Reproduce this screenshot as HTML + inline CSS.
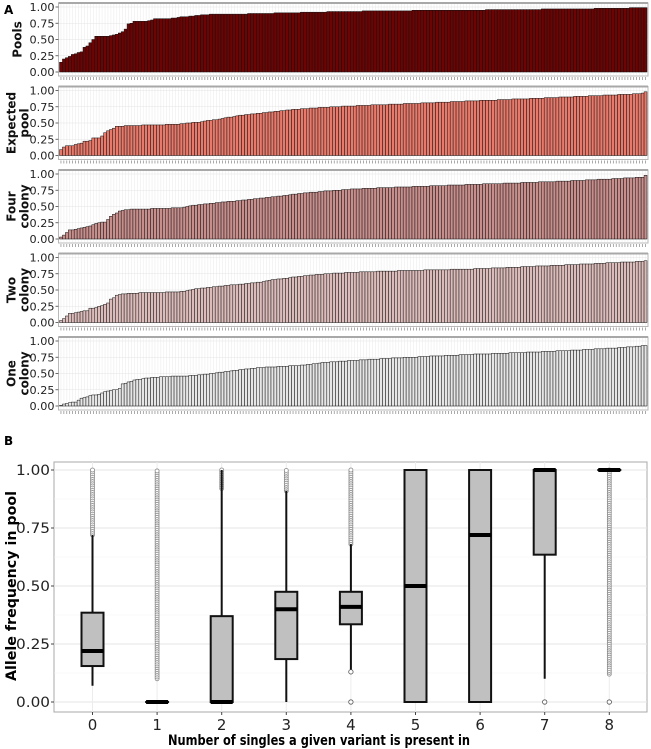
<!DOCTYPE html>
<html><head><meta charset="utf-8">
<style>
body{margin:0;background:#fff}
svg{display:block;font-family:"DejaVu Sans","Liberation Sans",sans-serif}
</style></head><body>
<svg id="chart" width="651" height="749" viewBox="0 0 651 749" xmlns="http://www.w3.org/2000/svg"></svg>
<script>
const pools=[15,20,22,24,27,28,30,31,38,40,45,50,55,55,55,55,55,56,57,58,60,62,66,74,75,78,78,78,78,78,79,80,82,82,82,82,82,82,83,83,84,85,85,85,86,86,87,87,88,88,88,89,89,89,89,89,89,89,89,89,89,89,89,89,90,90,90,90,90,90,90,90,90,91,91,91,91,91,91,91,91,91,92,92,92,92,92,92,92,92,92,93,93,93,93,93,93,93,93,93,93,93,93,94,94,94,94,94,94,94,94,94,94,94,94,94,94,94,94,94,95,95,95,95,95,95,95,95,95,95,95,95,95,95,95,95,95,95,95,95,95,95,95,95,95,96,96,96,96,96,96,96,96,96,96,96,96,96,96,96,96,96,96,96,97,97,97,97,97,97,97,97,97,97,97,97,97,97,97,97,97,97,98,98,98,98,98,98,98,98,98,98,98,98,99,99,99,99,99,99];
const expectedPool=[9,13,15,15,15,17,18,19,22,22,23,27,27,27,30,35,38,40,42,45,45,45,46,46,46,46,46,46,47,47,47,47,47,47,47,47,48,48,48,48,48,49,49,50,50,51,51,51,52,53,54,54,55,55,56,57,58,59,59,60,61,62,62,63,63,64,64,65,65,66,66,67,67,68,68,69,69,70,70,71,71,71,72,72,72,73,73,73,74,74,74,74,75,75,75,75,76,76,76,76,76,77,77,77,77,77,78,78,78,78,78,78,79,79,79,79,79,80,80,80,80,80,80,81,81,81,81,81,82,82,82,82,82,83,83,83,83,83,84,84,84,84,84,85,85,85,85,85,85,86,86,86,86,86,87,87,87,87,87,87,88,88,88,88,88,89,89,89,89,89,90,90,90,90,90,91,91,91,91,91,92,92,92,92,92,93,93,93,93,93,94,94,94,94,94,95,95,95,96,98];
const fourColony=[3,6,10,14,14,15,16,17,18,19,20,22,24,25,26,26,30,35,38,40,43,44,45,45,46,46,46,46,46,46,46,47,47,47,47,47,47,47,48,48,48,48,49,50,51,52,52,53,53,54,54,55,55,56,56,57,57,58,58,58,59,59,60,60,61,61,62,62,63,63,64,64,65,65,66,66,67,67,68,69,69,70,70,71,71,72,72,72,73,73,74,74,74,75,75,75,76,76,76,77,77,77,77,78,78,78,78,78,79,79,79,79,79,79,80,80,80,80,80,80,81,81,81,81,81,81,82,82,82,82,82,82,83,83,83,83,83,83,84,84,84,84,84,84,85,85,85,85,85,85,85,86,86,86,86,86,86,87,87,87,87,87,87,88,88,88,88,88,88,89,89,89,89,89,90,90,90,90,90,91,91,91,91,92,92,92,92,92,93,93,93,93,94,94,94,94,95,95,95,98];
const twoColony=[3,6,10,14,14,15,16,17,18,18,22,22,23,25,26,28,30,36,38,42,43,44,44,45,45,45,45,46,46,46,46,46,46,46,46,46,47,47,47,47,47,48,48,49,50,51,52,52,53,53,54,54,55,55,56,56,57,57,58,58,58,59,59,60,60,61,61,62,62,63,64,65,66,66,67,67,68,68,69,70,70,71,71,72,72,73,73,74,74,74,75,75,75,76,76,76,76,77,77,77,77,77,78,78,78,78,78,78,79,79,79,79,79,79,79,80,80,80,80,80,80,80,80,80,81,81,81,81,81,81,81,81,81,82,82,82,82,82,82,82,82,83,83,83,83,83,83,84,84,84,84,84,85,85,85,85,85,86,86,86,86,86,87,87,87,87,87,88,88,88,88,88,89,89,89,89,89,90,90,90,90,90,91,91,91,91,92,92,92,92,92,93,93,93,93,93,94,94,94,95];
const oneColony=[1,3,4,5,6,6,9,12,13,14,16,17,17,18,20,22,23,24,25,25,27,34,35,37,38,40,41,41,42,43,43,44,44,44,45,45,45,45,46,46,46,46,46,46,47,47,47,48,48,49,49,50,50,51,52,52,53,53,54,55,55,56,56,57,57,58,58,59,59,59,60,60,60,60,61,61,61,61,62,62,62,62,63,63,64,64,65,65,66,67,67,67,68,68,68,69,69,69,70,70,70,70,71,71,71,72,72,72,72,73,73,73,73,74,74,74,74,75,75,75,75,75,76,76,76,76,77,77,77,77,77,78,78,78,78,78,79,79,79,79,79,80,80,80,80,80,80,81,81,81,81,81,81,82,82,82,82,82,82,83,83,83,83,83,84,84,84,84,84,85,85,85,85,85,86,86,86,86,87,87,87,87,88,88,88,88,89,89,89,89,90,90,90,91,91,91,92,92,93,93];
const panelNames=["Pools","Expected|pool","Four|colony","Two|colony","One|colony"];
const panelColors=["#6e0303","#e97a6b","#c88e8c","#dcbcba","#e6e6e6"];
const yTicks=[0,0.25,0.5,0.75,1];
const yTickLabels=["0.00","0.25","0.50","0.75","1.00"];
const boxCats=["0","1","2","3","4","5","6","7","8"];
const boxLow=[0.07,0,0,0,0.14,0,0,0.10,1];
const boxQ1=[0.155,0,0,0.185,0.335,0,0,0.635,1];
const boxMed=[0.22,0,0,0.40,0.41,0.50,0.72,1,1];
const boxQ3=[0.385,0,0.37,0.475,0.475,1,1,1,1];
const boxHigh=[0.72,0,1,0.91,0.68,1,1,1,1];
const outlierRanges=[[0.72,1],[0.10,1],[0.92,1],[0.91,1],[0.68,1],null,null,null,[0.12,1]];
const outlierSingles=[[],[],[],[],[0.13,0],[],[],[0],[0]];

const NS="http://www.w3.org/2000/svg";
const svg=document.getElementById('chart');
function mk(tag,attrs,parent){const e=document.createElementNS(NS,tag);for(const k in attrs)e.setAttribute(k,attrs[k]);(parent||svg).appendChild(e);return e;}

const series=[pools,expectedPool,fourColony,twoColony,oneColony];
const px0=58.5, px1=648;
series.forEach((vals,p)=>{
  const g=mk('g',{});
  
  
  const y1=7+83.5*p, y0=72+83.5*p;
  const ys=v=>y0-(y0-y1)*v;
  const n=vals.length, bw=(px1-px0-2)/n;
  const xs=i=>px0+1+i*bw;
  const bg=mk('rect',{x:px0,y:y1-4,width:px1-px0,height:(y0-y1)+8,fill:'#fff',stroke:'#b8b8b8','stroke-width':1},g);
  
  
  mk('line',{x1:px0,x2:px1,y1:y1-4,y2:y1-4,stroke:'#a8a8a8','stroke-width':2},g);
  for(let i=0;i<n;i++){mk('line',{x1:xs(i)+bw/2,x2:xs(i)+bw/2,y1:y1-3,y2:y0+3,stroke:'#ececec','stroke-width':0.6},g);}
  yTicks.forEach(t=>mk('line',{x1:px0,x2:px1,y1:ys(t),y2:ys(t),stroke:'#e4e4e4','stroke-width':0.6},g));
  vals.forEach((v,i)=>{
    const r=mk('rect',{x:xs(i),y:ys(v/100),width:bw,height:y0-ys(v/100),fill:panelColors[p],stroke:'#111','stroke-width':0.5},g);
    
    
    mk('line',{x1:xs(i)+bw/2,x2:xs(i)+bw/2,y1:y0+5,y2:y0+8,stroke:'#555','stroke-width':0.5},g);
  });
  yTicks.forEach((t,k)=>{
    mk('line',{x1:px0-3,x2:px0,y1:ys(t),y2:ys(t),stroke:'#444','stroke-width':0.8},g);
    const tx=mk('text',{x:px0-4,y:ys(t)+4,'font-size':11,'text-anchor':'end',fill:'#222',textLength:25,lengthAdjust:'spacingAndGlyphs'},g);
    tx.textContent=yTickLabels[k];
    
    
  });
  const parts=panelNames[p].split('|');
  const cy=(y0+y1)/2;
  parts.forEach((s,k)=>{
    const cx=parts.length===1?18:12+k*13;
    const tt=mk('text',{x:cx,y:cy,'font-size':12,'font-weight':'bold','text-anchor':'middle',transform:`rotate(-90 ${cx} ${cy})`,'dominant-baseline':'middle',fill:'#111'},g);
    tt.textContent=s;
    
    
  });
});
const la=mk('text',{x:4,y:14,'font-size':12,'font-weight':'bold'});la.textContent='A';


const lb=mk('text',{x:4,y:445,'font-size':12,'font-weight':'bold'});lb.textContent='B';



// Panel B
const bx0=54, bx1=647, by1=470, by0=702;
const bys=v=>by0-(by0-by1)*v;
const bxs=i=>92.5+i*64.6;
const gb=mk('g',{});


mk('rect',{x:bx0,y:462,width:bx1-bx0,height:250,fill:'#fff',stroke:'#a8a8a8','stroke-width':1},gb);
[0.125,0.375,0.625,0.875].forEach(t=>mk('line',{x1:bx0,x2:bx1,y1:bys(t),y2:bys(t),stroke:'#f2f2f2','stroke-width':0.6},gb));
yTicks.forEach(t=>mk('line',{x1:bx0,x2:bx1,y1:bys(t),y2:bys(t),stroke:'#e6e6e6','stroke-width':1},gb));
boxCats.forEach((c,i)=>mk('line',{x1:bxs(i),x2:bxs(i),y1:462,y2:712,stroke:'#ececec','stroke-width':1},gb));
yTicks.forEach((t,k)=>{
  mk('line',{x1:bx0-3,x2:bx0,y1:bys(t),y2:bys(t),stroke:'#444'},gb);
  const tx=mk('text',{x:bx0-4,y:bys(t)+5,'font-size':14,'text-anchor':'end',fill:'#222',textLength:34,lengthAdjust:'spacingAndGlyphs'},gb);
  tx.textContent=yTickLabels[k];
  
  
});
boxCats.forEach((c,i)=>{
  const x=bxs(i), w=22;
  const g=mk('g',{},gb);
  
  
  const rg=outlierRanges[i];
  if(rg){for(let v=rg[0];v<=rg[1]+1e-9;v+=0.008){mk('circle',{cx:x,cy:bys(v),r:2,fill:'#fff',stroke:'#888','stroke-width':0.8},g);}}
  outlierSingles[i].forEach(v=>mk('circle',{cx:x,cy:bys(v),r:2.2,fill:'#fff',stroke:'#555','stroke-width':0.8},g));
  mk('line',{x1:x,x2:x,y1:bys(boxLow[i]),y2:bys(boxHigh[i]),stroke:'#111','stroke-width':2},g);
  mk('rect',{x:x-w/2,y:bys(boxQ3[i]),width:w,height:Math.max(0.01,bys(boxQ1[i])-bys(boxQ3[i])),fill:'#c0c0c0',stroke:'#111','stroke-width':2},g);
  mk('line',{x1:x-w/2,x2:x+w/2,y1:bys(boxMed[i]),y2:bys(boxMed[i]),stroke:'#000','stroke-width':4},g);
  mk('line',{x1:x,x2:x,y1:712,y2:715,stroke:'#444'},gb);
  const tl=mk('text',{x:x,y:730,'font-size':15,'text-anchor':'middle',fill:'#222'},gb);
  tl.textContent=c;
  
  
});
const xt=mk('text',{x:319,y:745,'font-size':14,'font-weight':'bold','text-anchor':'middle',textLength:302,lengthAdjust:'spacingAndGlyphs'});
xt.textContent='Number of singles a given variant is present in';


const yt=mk('text',{x:12,y:586,'font-size':14,'font-weight':'bold','text-anchor':'middle','dominant-baseline':'middle',transform:'rotate(-90 12 586)',textLength:190,lengthAdjust:'spacingAndGlyphs'});
yt.textContent='Allele frequency in pool';


</script>
</body></html>
